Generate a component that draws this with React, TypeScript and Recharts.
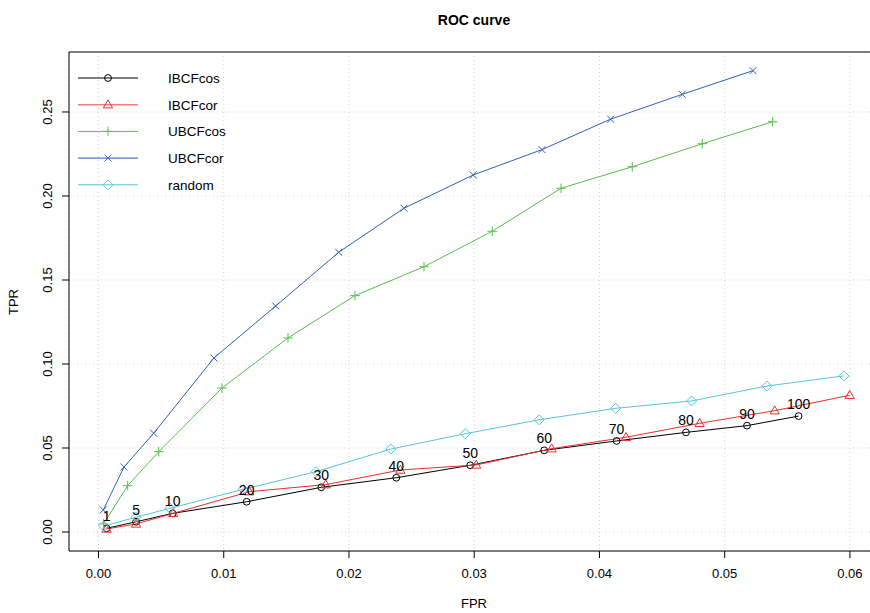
import React from "react";
import { LineChart, Line, XAxis, YAxis, CartesianGrid, Legend, LabelList, ReferenceArea } from "recharts";

const nValues = [1, 5, 10, 20, 30, 40, 50, 60, 70, 80, 90, 100];

const ibcfCosFpr = [0.00065, 0.003, 0.00592, 0.01183, 0.01779, 0.02378, 0.02968, 0.03559, 0.04137, 0.04691, 0.05178, 0.0559];
const ibcfCosTpr = [0.0022, 0.0061, 0.0111, 0.018, 0.0266, 0.0323, 0.0397, 0.0486, 0.0542, 0.0593, 0.0633, 0.069];

const ibcfCorFpr = [0.00065, 0.003, 0.00597, 0.01204, 0.01814, 0.0241, 0.03016, 0.03618, 0.04212, 0.048, 0.05399, 0.05998];
const ibcfCorTpr = [0.0018, 0.0048, 0.0111, 0.024, 0.0282, 0.0369, 0.0399, 0.0496, 0.0564, 0.0647, 0.0722, 0.0814];

const ubcfCosFpr = [0.0004, 0.00233, 0.00481, 0.00986, 0.01513, 0.02048, 0.02599, 0.03144, 0.03693, 0.04262, 0.04821, 0.05383];
const ubcfCosTpr = [0.0048, 0.0276, 0.0478, 0.0857, 0.1155, 0.1407, 0.1579, 0.179, 0.2046, 0.2174, 0.2311, 0.2442];

const ubcfCorFpr = [0.00038, 0.00204, 0.00441, 0.00922, 0.01415, 0.01918, 0.02439, 0.02992, 0.03541, 0.04089, 0.04661, 0.05226];
const ubcfCorTpr = [0.0131, 0.0387, 0.0588, 0.1036, 0.1345, 0.1665, 0.1927, 0.2125, 0.2276, 0.2457, 0.2605, 0.2746];

const randomFpr = [0.0004, 0.003, 0.00571, 0.01156, 0.01737, 0.02335, 0.02929, 0.03519, 0.04129, 0.04736, 0.05337, 0.05952];
const randomTpr = [0.0035, 0.0088, 0.0141, 0.0254, 0.0359, 0.0494, 0.0585, 0.0668, 0.0736, 0.078, 0.0869, 0.0929];

const xTicks = [0, 0.01, 0.02, 0.03, 0.04, 0.05, 0.06];
const yTicks = [0, 0.05, 0.1, 0.15, 0.2, 0.25];

const X_MIN = -0.002355;
const X_MAX = 0.0624;
const Y_MIN = -0.01131;
const Y_MAX = 0.2857;

const FONT = "'Liberation Sans', Arial, Helvetica, sans-serif";

const toRows = (fpr: number[], tpr: number[]) =>
  nValues.map((n, i) => ({ n, fpr: fpr[i], tpr: tpr[i] }));

type Kind = "circle" | "triangle" | "plus" | "cross" | "diamond";

const series = [
  { name: "IBCFcos", color: "#000000", kind: "circle" as Kind, rows: toRows(ibcfCosFpr, ibcfCosTpr), legendColor: "#000000", legendWidth: 1 },
  { name: "IBCFcor", color: "#EE2C2C", kind: "triangle" as Kind, rows: toRows(ibcfCorFpr, ibcfCorTpr), legendColor: "#F47E7E", legendWidth: 1.6 },
  { name: "UBCFcos", color: "#55C04A", kind: "plus" as Kind, rows: toRows(ubcfCosFpr, ubcfCosTpr), legendColor: "#55C04A", legendWidth: 1 },
  { name: "UBCFcor", color: "#3062BC", kind: "cross" as Kind, rows: toRows(ubcfCorFpr, ubcfCorTpr), legendColor: "#7E9ED6", legendWidth: 1.6 },
  { name: "random", color: "#55C5DC", kind: "diamond" as Kind, rows: toRows(randomFpr, randomTpr), legendColor: "#55C5DC", legendWidth: 1 },
];

function marker(kind: Kind, cx: number, cy: number, color: string, key?: string | number) {
  switch (kind) {
    case "circle":
      return <circle key={key} cx={cx} cy={cy} r={3.4} fill="none" stroke={color} strokeWidth={1} />;
    case "triangle":
      return (
        <polygon
          key={key}
          points={`${cx},${cy - 4.8} ${cx - 4.6},${cy + 3.2} ${cx + 4.6},${cy + 3.2}`}
          fill="none"
          stroke={color}
          strokeWidth={1}
        />
      );
    case "plus":
      return (
        <path key={key} d={`M${cx - 4.8},${cy}H${cx + 4.8}M${cx},${cy - 4.8}V${cy + 4.8}`} stroke={color} strokeWidth={1} fill="none" />
      );
    case "cross":
      return (
        <path
          key={key}
          d={`M${cx - 3.5},${cy - 3.5}L${cx + 3.5},${cy + 3.5}M${cx - 3.5},${cy + 3.5}L${cx + 3.5},${cy - 3.5}`}
          stroke={color}
          strokeWidth={1}
          fill="none"
        />
      );
    default:
      return (
        <polygon
          key={key}
          points={`${cx},${cy - 5} ${cx + 5},${cy} ${cx},${cy + 5} ${cx - 5},${cy}`}
          fill="none"
          stroke={color}
          strokeWidth={1}
        />
      );
  }
}

const YTick = (props: any) => {
  const { x, y, payload } = props;
  return (
    <text transform={`translate(${x - 8},${y}) rotate(-90)`} textAnchor="middle" fontSize={13} fontFamily={FONT} fill="#000">
      {payload.value.toFixed(2)}
    </text>
  );
};

const renderLegend = () => (
  <svg width={260} height={200}>
    {series.map((s, i) => {
      const y = 78 + i * 26.7;
      return (
        <g key={s.name}>
          <line x1={78} x2={138} y1={y} y2={y} stroke={s.legendColor} strokeWidth={s.legendWidth} />
          {marker(s.kind, 108, y, s.color)}
          <text x={168} y={y + 5} fontSize={13.5} fontFamily={FONT} fill="#000">
            {s.name}
          </text>
        </g>
      );
    })}
  </svg>
);

export default function App() {
  return (
    <div style={{ position: "absolute", left: 0, top: 0, width: 870, height: 613, overflow: "hidden", background: "#fff", fontFamily: FONT }}>
      <div style={{ position: "absolute", left: 274, top: 12, width: 400, textAlign: "center", fontWeight: "bold", fontSize: 14, lineHeight: "16px" }}>
        ROC curve
      </div>
      <div style={{ position: "absolute", left: 424, top: 596, width: 100, textAlign: "center", fontSize: 13, lineHeight: "16px" }}>
        FPR
      </div>
      <div
        style={{
          position: "absolute",
          left: -36,
          top: 294,
          width: 100,
          textAlign: "center",
          fontSize: 13,
          lineHeight: "16px",
          transform: "rotate(-90deg)",
        }}
      >
        TPR
      </div>
      <LineChart width={880} height={613} margin={{ top: 52, right: 0, bottom: 0, left: 0 }}>
        <CartesianGrid stroke="#D3D3D3" strokeDasharray="1 3" />
        <XAxis
          type="number"
          dataKey="fpr"
          domain={[X_MIN, X_MAX]}
          allowDataOverflow
          ticks={xTicks}
          interval={0}
          height={62}
          axisLine={false}
          tickLine={{ stroke: "#000" }}
          tickSize={7}
          tickMargin={11}
          tickFormatter={(v: number) => v.toFixed(2)}
          tick={{ fontSize: 13, fill: "#000", fontFamily: FONT }}
        />
        <YAxis
          type="number"
          domain={[Y_MIN, Y_MAX]}
          allowDataOverflow
          ticks={yTicks}
          interval={0}
          width={69}
          axisLine={false}
          tickLine={{ stroke: "#000" }}
          tickSize={7}
          tickMargin={2}
          tick={<YTick />}
        />
        <ReferenceArea x1={X_MIN} x2={X_MAX} y1={Y_MIN} y2={Y_MAX} fill="none" stroke="#000" strokeWidth={1} ifOverflow="visible" />
        <Legend
          content={renderLegend}
          layout="vertical"
          align="center"
          verticalAlign="middle"
          wrapperStyle={{ position: "absolute", left: 0, top: 0, width: 260, height: 200 }}
        />
        {series.map((s) => (
          <Line
            key={s.name}
            data={s.rows}
            dataKey="tpr"
            name={s.name}
            type="linear"
            stroke={s.color}
            strokeWidth={1}
            isAnimationActive={false}
            dot={(p: any) => marker(s.kind, p.cx, p.cy, s.color, `${s.name}-${p.index}`)}
            activeDot={false}
          >
            {s.name === "IBCFcos" ? (
              <LabelList dataKey="n" position="top" offset={7} fontSize={14} fill="#000" fontFamily={FONT} />
            ) : null}
          </Line>
        ))}
      </LineChart>
    </div>
  );
}
